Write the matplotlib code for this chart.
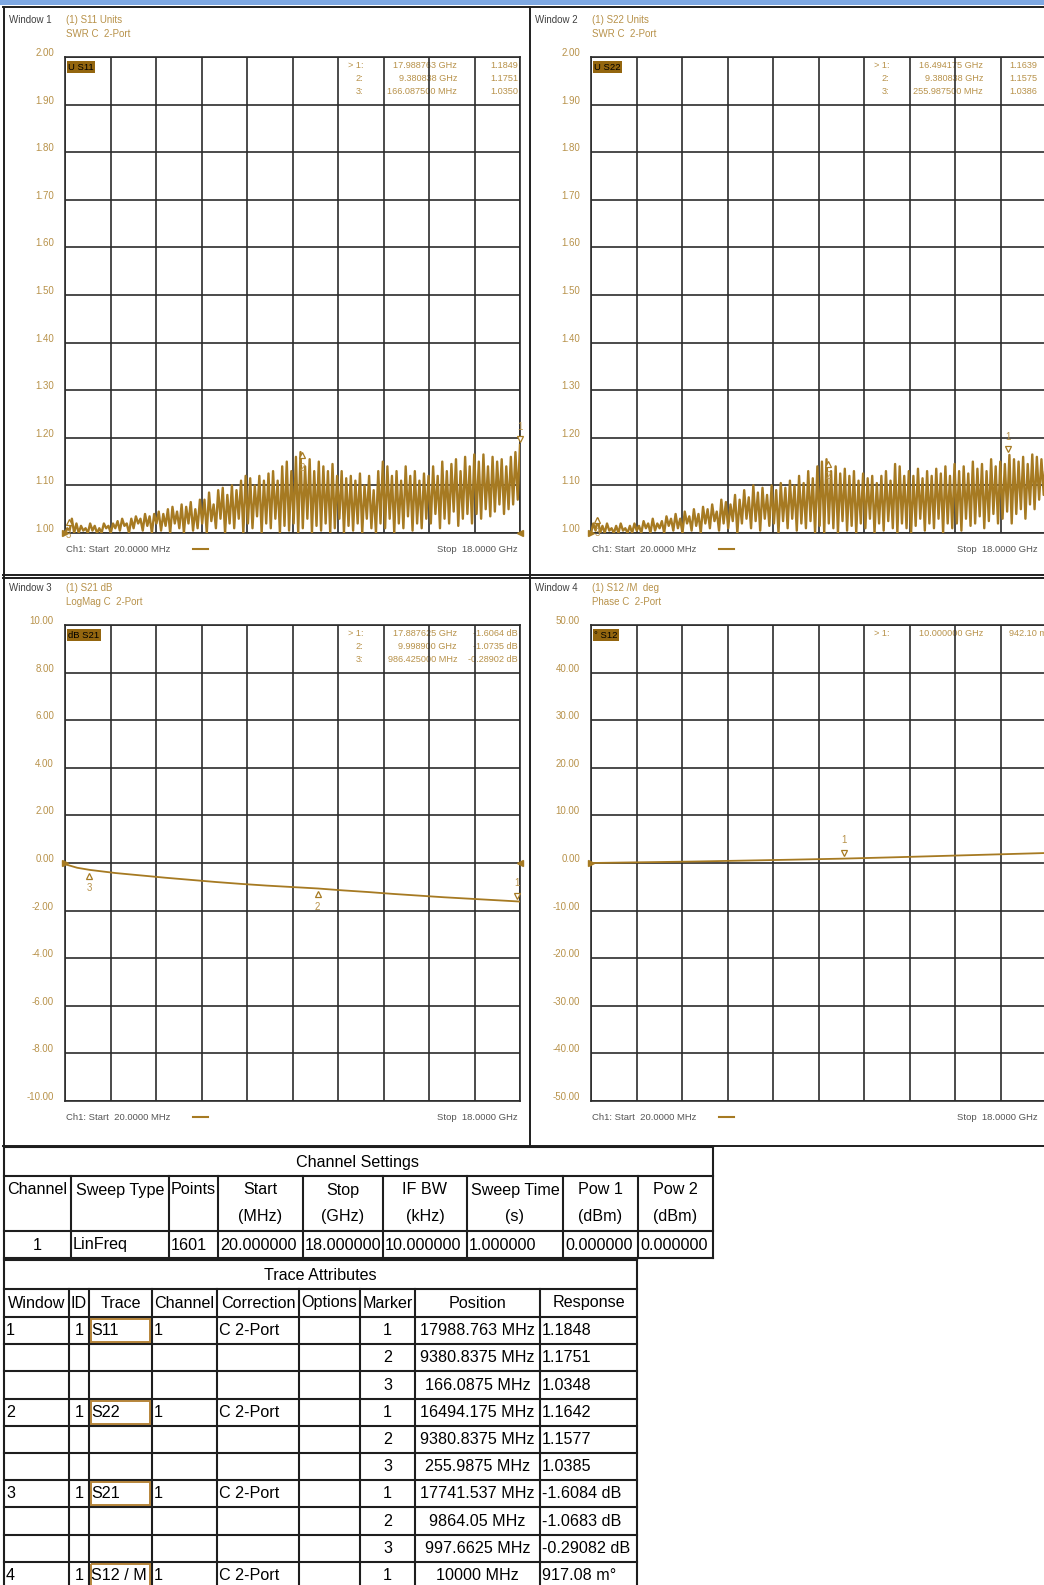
import numpy as np
import matplotlib
matplotlib.use('Agg')
import matplotlib.pyplot as plt
from matplotlib import font_manager
from matplotlib.transforms import ScaledTranslation

W, H = 1044, 1585

# sweep settings
f_start, f_stop = 0.02, 18.0   # GHz
n_div = 10

# S11 SWR ripple: peak / dip values read along the sweep
s11_peaks = [1.01, 1.03, 1.02, 1.015, 1.01, 1.02, 1.015, 1.01, 1.02, 1.015,
             1.02, 1.025, 1.03, 1.02, 1.03, 1.035, 1.03, 1.04, 1.035, 1.04,
             1.045, 1.04, 1.05, 1.055, 1.045, 1.06, 1.055, 1.065, 1.05, 1.07,
             1.07, 1.085, 1.06, 1.09, 1.095, 1.08, 1.10, 1.09, 1.11, 1.12,
             1.115, 1.10, 1.12, 1.11, 1.125, 1.13, 1.11, 1.14, 1.15, 1.13,
             1.16, 1.17, 1.14, 1.155, 1.13, 1.15, 1.14, 1.13, 1.145, 1.12,
             1.13, 1.115, 1.12, 1.11, 1.125, 1.10, 1.12, 1.09, 1.13, 1.15,
             1.14, 1.12, 1.13, 1.11, 1.14, 1.12, 1.13, 1.11, 1.125, 1.12,
             1.14, 1.12, 1.15, 1.13, 1.145, 1.155, 1.13, 1.16, 1.14, 1.165,
             1.15, 1.165, 1.14, 1.16, 1.15, 1.155, 1.14, 1.16, 1.17, 1.185]
s11_dips = [1.00, 1.005, 1.00, 1.00, 1.005, 1.00, 1.005, 1.00, 1.00, 1.01,
            1.00, 1.01, 1.005, 1.015, 1.00, 1.01, 1.02, 1.005, 1.015, 1.00,
            1.02, 1.005, 1.015, 1.00, 1.02, 1.01, 1.00, 1.02, 1.005, 1.01,
            1.02, 1.00, 1.025, 1.01, 1.03, 1.00, 1.02, 1.01, 1.03, 1.00,
            1.02, 1.01, 1.035, 1.00, 1.02, 1.01, 1.03, 1.00, 1.015, 1.005,
            1.02, 1.00, 1.01, 1.03, 1.00, 1.015, 1.005, 1.02, 1.00, 1.01,
            1.03, 1.00, 1.015, 1.005, 1.02, 1.00, 1.03, 1.01, 1.00, 1.02,
            1.01, 1.03, 1.00, 1.02, 1.01, 1.035, 1.005, 1.02, 1.01, 1.03,
            1.02, 1.04, 1.01, 1.03, 1.02, 1.045, 1.015, 1.03, 1.04, 1.02,
            1.04, 1.03, 1.05, 1.035, 1.045, 1.06, 1.04, 1.05, 1.06, 1.07]

# S22 SWR ripple
s22_peaks = [1.02, 1.03, 1.015, 1.02, 1.01, 1.015, 1.02, 1.01, 1.015, 1.02,
             1.015, 1.025, 1.02, 1.03, 1.02, 1.025, 1.035, 1.03, 1.04, 1.03,
             1.045, 1.035, 1.05, 1.04, 1.055, 1.05, 1.06, 1.045, 1.07, 1.065,
             1.06, 1.08, 1.07, 1.09, 1.075, 1.10, 1.085, 1.095, 1.08, 1.10,
             1.09, 1.105, 1.095, 1.11, 1.10, 1.12, 1.105, 1.13, 1.115, 1.14,
             1.15, 1.155, 1.13, 1.14, 1.125, 1.135, 1.12, 1.13, 1.11, 1.125,
             1.115, 1.12, 1.105, 1.12, 1.13, 1.11, 1.145, 1.14, 1.12, 1.13,
             1.12, 1.135, 1.115, 1.13, 1.12, 1.135, 1.125, 1.14, 1.12, 1.145,
             1.13, 1.14, 1.125, 1.15, 1.135, 1.145, 1.13, 1.155, 1.14, 1.15,
             1.145, 1.164, 1.155, 1.15, 1.16, 1.145, 1.165, 1.16, 1.155, 1.165]
s22_dips = [1.00, 1.005, 1.00, 1.00, 1.005, 1.00, 1.00, 1.005, 1.00, 1.00,
            1.005, 1.00, 1.01, 1.00, 1.005, 1.01, 1.00, 1.015, 1.005, 1.01,
            1.00, 1.02, 1.005, 1.015, 1.00, 1.02, 1.01, 1.025, 1.005, 1.02,
            1.01, 1.025, 1.00, 1.02, 1.03, 1.01, 1.025, 1.005, 1.03, 1.015,
            1.02, 1.00, 1.025, 1.01, 1.03, 1.005, 1.02, 1.01, 1.025, 1.00,
            1.015, 1.00, 1.02, 1.01, 1.00, 1.025, 1.005, 1.015, 1.00, 1.02,
            1.01, 1.03, 1.00, 1.02, 1.005, 1.025, 1.01, 1.00, 1.02, 1.01,
            1.00, 1.015, 1.03, 1.005, 1.02, 1.01, 1.03, 1.00, 1.02, 1.01,
            1.02, 1.005, 1.03, 1.015, 1.02, 1.035, 1.01, 1.025, 1.04, 1.02,
            1.03, 1.045, 1.02, 1.04, 1.05, 1.03, 1.06, 1.05, 1.07, 1.08]

# S21 dB and S12 phase (deg), read at these frequencies
s21_freq = [0.02, 0.5, 1.0, 2.0, 3.0, 4.0, 5.0, 6.0, 7.0, 8.0, 9.0, 10.0,
            11.0, 12.0, 13.0, 14.0, 15.0, 16.0, 17.0, 18.0]
s21_db = [-0.05, -0.20, -0.29, -0.42, -0.52, -0.62, -0.71, -0.80, -0.88, -0.95,
          -1.01, -1.07, -1.15, -1.22, -1.30, -1.37, -1.44, -1.50, -1.56, -1.62]
s12_freq = [0.02, 2.0, 4.0, 6.0, 8.0, 10.0, 12.0, 14.0, 16.0, 18.0]
s12_deg = [0.0, 0.15, 0.3, 0.5, 0.7, 0.92, 1.2, 1.5, 1.8, 2.1]

# markers (number, GHz, value)
s11_markers = [(1, 17.988763, 1.1849), (2, 9.380838, 1.1751), (3, 0.1660875, 1.0350)]
s22_markers = [(1, 16.494175, 1.1639), (2, 9.380838, 1.1575), (3, 0.2559875, 1.0386)]
s21_markers = [(1, 17.887625, -1.6064), (2, 9.9989, -1.0735), (3, 0.986425, -0.28902)]
s12_markers = [(1, 10.0, 0.9421)]

readouts = {
    'w1': [('> 1:', '17.988763 GHz', '1.1849'), ('2:', '9.380838 GHz', '1.1751'),
           ('3:', '166.087500 MHz', '1.0350')],
    'w2': [('> 1:', '16.494175 GHz', '1.1639'), ('2:', '9.380838 GHz', '1.1575'),
           ('3:', '255.987500 MHz', '1.0386')],
    'w3': [('> 1:', '17.887625 GHz', '-1.6064 dB'), ('2:', '9.998900 GHz', '-1.0735 dB'),
           ('3:', '986.425000 MHz', '-0.28902 dB')],
    'w4': [('> 1:', '10.000000 GHz', '942.10 m°')],
}

chan_head1 = ['Channel', 'Sweep Type', 'Points', 'Start', 'Stop', 'IF BW', 'Sweep Time', 'Pow 1', 'Pow 2']
chan_head2 = ['', '', '', '(MHz)', '(GHz)', '(kHz)', '(s)', '(dBm)', '(dBm)']
chan_row = ['1', 'LinFreq', '1601', '20.000000', '18.000000', '10.000000', '1.000000', '0.000000', '0.000000']

trace_head = ['Window', 'ID', 'Trace', 'Channel', 'Correction', 'Options', 'Marker', 'Position', 'Response']
trace_rows = [
    ['1', '1', 'S11', '1', 'C 2-Port', '', '1', '17988.763 MHz', '1.1848'],
    ['', '', '', '', '', '', '2', '9380.8375 MHz', '1.1751'],
    ['', '', '', '', '', '', '3', '166.0875 MHz', '1.0348'],
    ['2', '1', 'S22', '1', 'C 2-Port', '', '1', '16494.175 MHz', '1.1642'],
    ['', '', '', '', '', '', '2', '9380.8375 MHz', '1.1577'],
    ['', '', '', '', '', '', '3', '255.9875 MHz', '1.0385'],
    ['3', '1', 'S21', '1', 'C 2-Port', '', '1', '17741.537 MHz', '-1.6084 dB'],
    ['', '', '', '', '', '', '2', '9864.05 MHz', '-1.0683 dB'],
    ['', '', '', '', '', '', '3', '997.6625 MHz', '-0.29082 dB'],
    ['4', '1', 'S12 / M', '1', 'C 2-Port', '', '1', '10000 MHz', '917.08 m°'],
]

TRACE = '#a67a22'
GOLD = '#b8924a'
GRID = '#2c2c2c'
LINE = '#1e1e1e'

names = {f.name for f in font_manager.fontManager.ttflist}
small_font = 'Liberation Sans'
if 'Liberation Sans Narrow' in names:
    table_font, TFS = 'Liberation Sans Narrow', 12.5
else:
    table_font, TFS = 'Liberation Sans', 11.6

fig = plt.figure(figsize=(W / 100, H / 100), dpi=100)
bg = fig.add_axes([0, 0, 1, 1])
bg.set_xlim(0, W)
bg.set_ylim(H, 0)
bg.axis('off')


def px_axes(l, t, r, b):
    return fig.add_axes([l / W, 1 - b / H, (r - l) / W, (b - t) / H])


def zigzag(peaks, dips):
    vals = np.empty(2 * len(peaks))
    vals[0::2] = dips
    vals[1::2] = peaks
    freqs = np.linspace(f_start, f_stop, len(vals))
    return freqs, vals


def setup_plot(ax, ymin, ymax):
    ticks = np.linspace(ymin, ymax, n_div + 1)
    ax.set_xlim(f_start, f_stop)
    ax.set_ylim(ymin, ymax)
    ax.set_facecolor('none')
    ax.set_xticks(np.linspace(f_start, f_stop, n_div + 1))
    ax.set_yticks(ticks)
    ax.set_yticklabels([f'{v:.2f}' for v in ticks])
    ax.tick_params(length=0, labelbottom=False, pad=8, labelsize=7, labelcolor=GOLD)
    for lab in ax.get_yticklabels():
        lab.set_fontfamily(small_font)
        lab.set_transform(lab.get_transform() + ScaledTranslation(0, 5 / 100, fig.dpi_scale_trans))
    ax.grid(True, color=GRID, lw=1.2)
    for sp in ax.spines.values():
        sp.set_color(GRID)
        sp.set_linewidth(1.2)


def draw_markers(ax, markers, ymin, ymax):
    span = ymax - ymin
    for num, f, v in markers:
        if num == 1:
            ax.plot(f, v + span * 0.012, marker='v', ms=5, mfc='white', mec=TRACE, mew=0.9,
                    clip_on=False, zorder=5)
            ax.text(f, v + span * 0.028, str(num), color=GOLD, fontsize=7, ha='center',
                    va='bottom', family=small_font, zorder=5)
        else:
            ax.plot(f, v - span * 0.012, marker='^', ms=5, mfc='white', mec=TRACE, mew=0.9,
                    clip_on=False, zorder=5)
            ax.text(f, v - span * 0.028, str(num), color=GOLD, fontsize=7, ha='center',
                    va='top', family=small_font, zorder=5)


def ref_arrows(ax, ref, right=True):
    ax.plot(f_start, ref, marker='>', ms=5, color=TRACE, clip_on=False, zorder=5)
    if right:
        ax.plot(f_stop, ref, marker='<', ms=5, color=TRACE, clip_on=False, zorder=5)


# frame & top bar
bg.add_patch(plt.Rectangle((0, 0), W, 5, color='#7ea8e2', lw=0))
for y in [7, 575, 578, 1146]:
    bg.plot([3, W], [y, y], color=LINE, lw=1.4)
bg.plot([4, 4], [7, 1146], color=LINE, lw=1.4)
bg.plot([530, 530], [7, 1146], color=LINE, lw=1.4)

windows = [
    ('Window 1', '(1) S11 Units', 'SWR C  2-Port', 'U S11', 0, 0),
    ('Window 2', '(1) S22 Units', 'SWR C  2-Port', 'U S22', 526, 0),
    ('Window 3', '(1) S21 dB', 'LogMag C  2-Port', 'dB S21', 0, 568),
    ('Window 4', '(1) S12 /M  deg', 'Phase C  2-Port', '° S12', 526, 568),
]
ov_boxes = []
for wname, h1, h2, tag, dx, dy in windows:
    bg.text(9 + dx, 20 + dy, wname, fontsize=7, color='#404040', va='center', family=small_font)
    bg.text(66 + dx, 20 + dy, h1, fontsize=7, color=GOLD, va='center', family=small_font)
    bg.text(66 + dx, 34 + dy, h2, fontsize=7, color=GOLD, va='center', family=small_font)
    bg.text(66 + dx, 550 + dy, 'Ch1: Start  20.0000 MHz', fontsize=6.8, color='#555555',
            va='center', family=small_font)
    bg.plot([193 + dx, 208 + dx], [549 + dy, 549 + dy], color=TRACE, lw=1.5)
    bg.text(518 + dx if dx == 0 else 957, 550 + dy, 'Stop  18.0000 GHz', fontsize=6.8,
            color='#555555', va='center', ha='right' if dx == 0 else 'left', family=small_font)
    ov_boxes.append((68 + dx, 67 + dy, tag))

# readouts
for key, dx, dy in [('w1', 0, 0), ('w2', 526, 0), ('w3', 0, 568), ('w4', 526, 568)]:
    for i, (lab, freq, val) in enumerate(readouts[key]):
        y = 65 + dy + i * 13.5
        bg.text(363 + dx, y, lab, fontsize=6.6, color=GOLD, ha='right', va='center', family=small_font)
        bg.text(457 + dx, y, freq, fontsize=6.6, color=GOLD, ha='right', va='center', family=small_font)
        if dx == 0:
            bg.text(518, y, val, fontsize=6.6, color=GOLD, ha='right', va='center', family=small_font)
        else:
            bg.text(1009, y, val, fontsize=6.6, color=GOLD, ha='left', va='center', family=small_font)

# window 1: S11
ax1 = px_axes(65, 57, 520, 533)
setup_plot(ax1, 1.0, 2.0)
fx, fy = zigzag(s11_peaks, s11_dips)
ax1.plot(fx, fy, color=TRACE, lw=1.7, zorder=3)
draw_markers(ax1, s11_markers, 1.0, 2.0)
ref_arrows(ax1, 1.0)

# window 2: S22
ax2 = px_axes(591, 57, 1046, 533)
setup_plot(ax2, 1.0, 2.0)
fx, fy = zigzag(s22_peaks, s22_dips)
ax2.plot(fx, fy, color=TRACE, lw=1.7, zorder=3)
draw_markers(ax2, s22_markers, 1.0, 2.0)
ref_arrows(ax2, 1.0, right=False)

# window 3: S21
ax3 = px_axes(65, 625, 520, 1101)
setup_plot(ax3, -10.0, 10.0)
ax3.plot(s21_freq, s21_db, color=TRACE, lw=1.3, zorder=3)
draw_markers(ax3, s21_markers, -10.0, 10.0)
ref_arrows(ax3, 0.0)

# window 4: S12 phase
ax4 = px_axes(591, 625, 1046, 1101)
setup_plot(ax4, -50.0, 50.0)
ax4.plot(s12_freq, s12_deg, color=TRACE, lw=1.3, zorder=3)
draw_markers(ax4, s12_markers, -50.0, 50.0)
ref_arrows(ax4, 0.0, right=False)

# overlay for trace tags
ov = fig.add_axes([0, 0, 1, 1])
ov.set_xlim(0, W)
ov.set_ylim(H, 0)
ov.axis('off')
for x, y, tag in ov_boxes:
    ov.text(x, y, tag, fontsize=6.8, color='black', va='center', ha='left', family=small_font,
            bbox=dict(boxstyle='square,pad=0.15', fc='#94660f', ec='none'))

TLW = 1.5

# channel settings table
cx = [4, 71, 169, 218, 303, 383, 467, 563, 638, 713]
bg.plot([4, 713], [1147, 1147], color=LINE, lw=TLW)
bg.plot([4, 713], [1176, 1176], color=LINE, lw=TLW)
bg.plot([4, 4], [1147, 1258], color=LINE, lw=TLW)
bg.plot([713, 713], [1147, 1258], color=LINE, lw=TLW)
for x in cx[1:-1]:
    bg.plot([x, x], [1176, 1258], color=LINE, lw=TLW)
bg.plot([4, 713], [1231, 1231], color=LINE, lw=TLW)
bg.plot([4, 713], [1258, 1258], color=LINE, lw=TLW)
bg.text(358, 1162, 'Channel Settings', fontsize=TFS, ha='center', va='center', family=table_font)
for i in range(9):
    xc = (cx[i] + cx[i + 1]) / 2
    bg.text(xc, 1190, chan_head1[i], fontsize=TFS, ha='center', va='center', family=table_font)
    bg.text(xc, 1217, chan_head2[i], fontsize=TFS, ha='center', va='center', family=table_font)
    if i == 0:
        bg.text(xc, 1245, chan_row[i], fontsize=TFS, ha='center', va='center', family=table_font)
    else:
        bg.text(cx[i] + 2, 1245, chan_row[i], fontsize=TFS, ha='left', va='center', family=table_font)

# trace attributes table
tx = [4, 69, 89, 152, 217, 299, 360, 415, 540, 637]
ty0 = 1260
bg.plot([4, 637], [ty0, ty0], color=LINE, lw=TLW)
bg.plot([4, 637], [1289, 1289], color=LINE, lw=TLW)
bg.plot([4, 4], [ty0, H], color=LINE, lw=TLW)
bg.plot([637, 637], [ty0, H], color=LINE, lw=TLW)
bg.text(320, 1275, 'Trace Attributes', fontsize=TFS, ha='center', va='center', family=table_font)
row_y = [1289, 1317] + [1317 + 27.2 * (k + 1) for k in range(len(trace_rows))]
for x in tx[1:-1]:
    bg.plot([x, x], [1289, H], color=LINE, lw=TLW)
for y in row_y[1:]:
    bg.plot([4, 637], [y, y], color=LINE, lw=TLW)
for i in range(9):
    xc = (tx[i] + tx[i + 1]) / 2
    bg.text(xc, 1303, trace_head[i], fontsize=TFS, ha='center', va='center', family=table_font)
for r, row in enumerate(trace_rows):
    yc = (row_y[r + 1] + row_y[r + 2]) / 2
    for i, val in enumerate(row):
        if not val:
            continue
        if i in (1, 6, 7):
            x, ha = (tx[i] + tx[i + 1]) / 2, 'center'
        else:
            x, ha = tx[i] + 2, 'left'
        bg.text(x, yc, val, fontsize=TFS, ha=ha, va='center', family=table_font)
    if row[2]:
        bg.add_patch(plt.Rectangle((tx[2] + 2, row_y[r + 1] + 2), tx[3] - tx[2] - 4,
                                   row_y[r + 2] - row_y[r + 1] - 4, fill=False,
                                   ec='#b8863b', lw=1.4))

fig.savefig('out.png', dpi=100)
